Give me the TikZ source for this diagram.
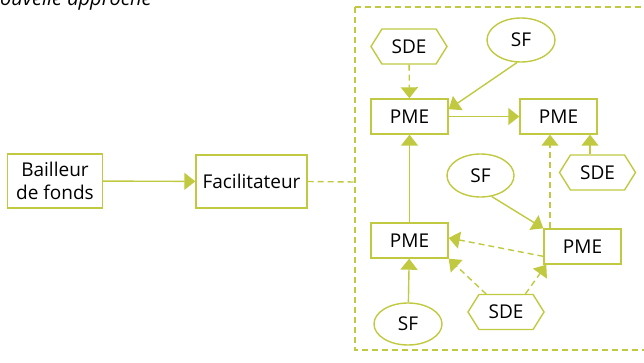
\documentclass[tikz,border=0pt]{standalone}
\usepackage{fontspec}
\setmainfont{Open Sans}
\usetikzlibrary{shapes.geometric,shapes.symbols,arrows.meta,calc}
\definecolor{olv}{RGB}{192,201,64}
\tikzset{
  every node/.style={font=\fontsize{19}{22}\selectfont, text=black},
  box/.style={draw=olv, line width=1.4pt, inner sep=0pt},
  hexa/.style={draw=olv, line width=1.4pt, signal, signal to=east and west, signal pointer angle=116, inner sep=0pt, minimum width=76pt, minimum height=35pt},
  ell/.style={draw=olv, line width=1.4pt, ellipse, inner sep=0pt},
  con/.style={draw=olv, line width=1.4pt, -{Triangle[length=11pt,width=17pt]}},
  dsh/.style={dash pattern=on 6pt off 4pt},
}
\begin{document}
\begin{tikzpicture}[x=1pt,y=-1pt]
\useasboundingbox (0,0) rectangle (644,363);
\node[anchor=base west, font=\fontsize{20}{22}\selectfont\itshape, inner sep=0pt] (title) at (0,5.5) {ouvelle approche};
\node[box, minimum width=95pt, minimum height=54pt, align=center, font=\fontsize{19}{22.5}\selectfont] (bf) at (55,181) {Bailleur\\de fonds};
\node[box, minimum width=111pt, minimum height=53pt] (fac) at (251.5,181.5) {Facilitateur};
\draw[olv, line width=1.4pt, dsh] (355,7) -- (660,7);
\draw[olv, line width=1.4pt, dsh] (355,7) -- (355,350) -- (660,350);
\coordinate (grp) at (355,182);
\draw[con] (bf) -- (fac);
\draw[olv, line width=1.4pt, dsh] (fac.east) -- (grp);

\node[hexa] (sde1) at (409,46.5) {SDE};
\node[ell, minimum width=68pt, minimum height=44pt] (sf1) at (521,40) {SF};
\node[box, minimum width=77pt, minimum height=35pt] (p1) at (409.5,116.5) {PME};
\node[box, minimum width=77pt, minimum height=35pt] (p2) at (558.5,116.5) {PME};
\node[hexa] (sde2) at (597.5,172.5) {SDE};
\node[ell, minimum width=67pt, minimum height=43pt] (sf2) at (480.5,175.5) {SF};
\node[box, minimum width=77pt, minimum height=35pt] (p3) at (409.5,240.5) {PME};
\node[box, minimum width=77pt, minimum height=35pt] (p4) at (582.5,246.5) {PME};
\node[ell, minimum width=68pt, minimum height=42pt] (sf3) at (408,324) {SF};
\node[hexa] (sde3) at (506,312) {SDE};

\draw[con, dsh] (sde1) -- (p1);
\draw[con] (sf1.-100) -- ($(p1.north east)!0.3!(p1.south east)$);
\draw[con] (p1) -- (p2);
\draw[con] (p3) -- (p1);
\draw[con] (sf3) -- (p3);
\draw[con] (sde2.north -| 590,0) -- (p2.south -| 590,0);
\draw[con, dsh] (p4.north -| 550,0) -- (p2.south -| 550,0);
\draw[con] (sf2.-62) -- (p4.north west);
\draw[con, dsh] ($(p4.north west)!0.77!(p4.south west)$) -- ($(p3.north east)!0.43!(p3.south east)$);
\draw[con, dsh] ($(sde3.north west)+(8,0)$) -- (p3.south east);
\draw[con, dsh] ($(sde3.north east)+(-8,0)$) -- ($(p4.south west)+(3,0)$);
\end{tikzpicture}
\end{document}
